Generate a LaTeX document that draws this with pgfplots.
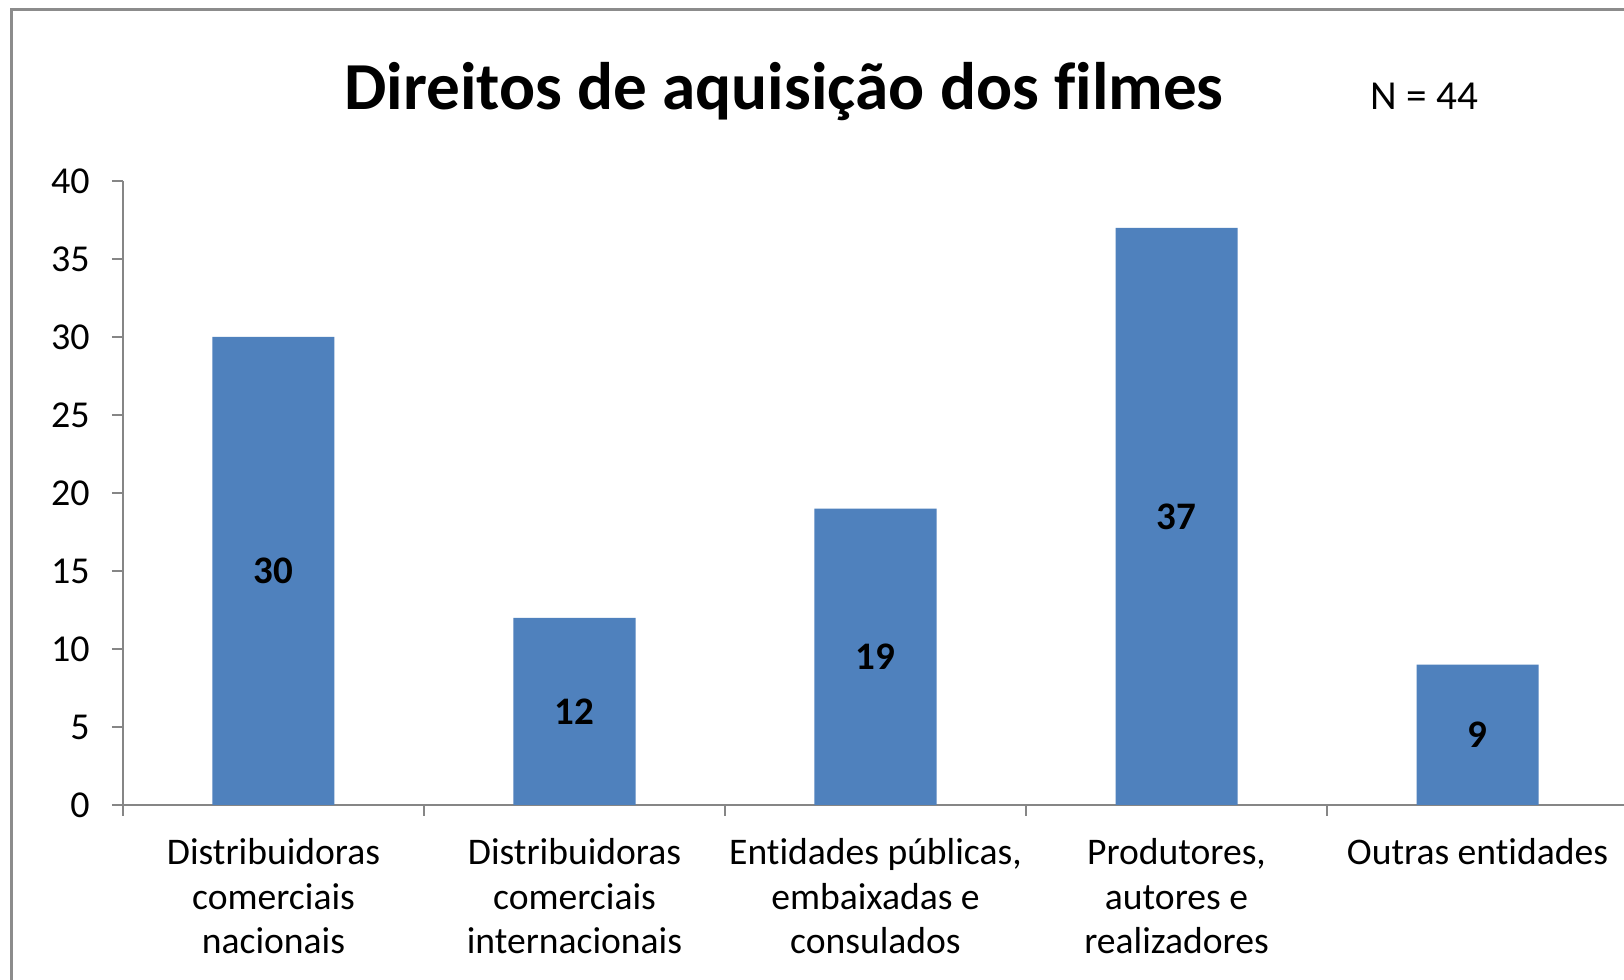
\documentclass[border=0pt]{standalone}
\usepackage{fontspec}
\setmainfont{Carlito}[Ligatures=NoCommon]
\usepackage{pgfplots}
\pgfplotsset{compat=1.18}
\definecolor{barblue}{HTML}{4F81BD}
\definecolor{axgray}{HTML}{868686}
\definecolor{bordergray}{HTML}{8C8C8C}
\begin{document}
\begin{tikzpicture}
\useasboundingbox (0,0) rectangle (812pt,490pt);
\clip (0,0) rectangle (812pt,490pt);
\fill[white] (0,0) rectangle (812pt,490pt);
\draw[bordergray, line width=1.5pt] (5.5pt,-50pt) -- (5.5pt,485pt) -- (900pt,485pt);
\begin{axis}[
  at={(61.5pt,87.5pt)}, anchor=south west,
  scale only axis, width=752.5pt, height=312pt,
  xmin=-0.5, xmax=4.5, ymin=0, ymax=40,
  axis x line=bottom, axis y line=left,
  axis line style={-, draw=axgray, line width=0.75pt},
  tick style={draw=axgray, line width=0.75pt},
  major tick length=5.5pt, tick align=outside,
  ytick={0,5,...,40},
  xtick={-0.5,0.5,1.5,2.5,3.5,4.5},
  xticklabels={{Distribuidoras\\comerciais\\nacionais},{Distribuidoras\\comerciais\\internacionais},{Entidades públicas,\\embaixadas e\\consulados},{Produtores,\\autores e\\realizadores},{Outras entidades},{}},
  xticklabel style={xshift=75.25pt, align=center, anchor=north, inner sep=0pt, yshift=-11pt, font=\fontsize{18.8}{22.3}\selectfont},
  yticklabel style={anchor=east, inner sep=0pt, xshift=-11pt, font=\fontsize{19}{22}\selectfont},
  /pgf/number format/assume math mode=true,
  ybar, bar width=61pt,
  clip=false,
]
\addplot[fill=barblue, draw=none,
  visualization depends on=rawy \as \rawy,
  nodes near coords,
  nodes near coords style={font=\fontsize{19.5}{22}\selectfont\bfseries, anchor=center, yshift={-3.9pt*\rawy}, text=black},
] coordinates {(0,30) (1,12) (2,19) (3,37) (4,9)};
\end{axis}
\node[font=\fontsize{33.6}{40}\selectfont\bfseries, anchor=base, inner sep=0pt] at (392pt,435pt) {Direitos de aquisição dos filmes};
\node[font=\fontsize{20.6}{25}\selectfont, anchor=base west, inner sep=0pt] at (685pt,435pt) {N = 44};
\end{tikzpicture}
\end{document}
